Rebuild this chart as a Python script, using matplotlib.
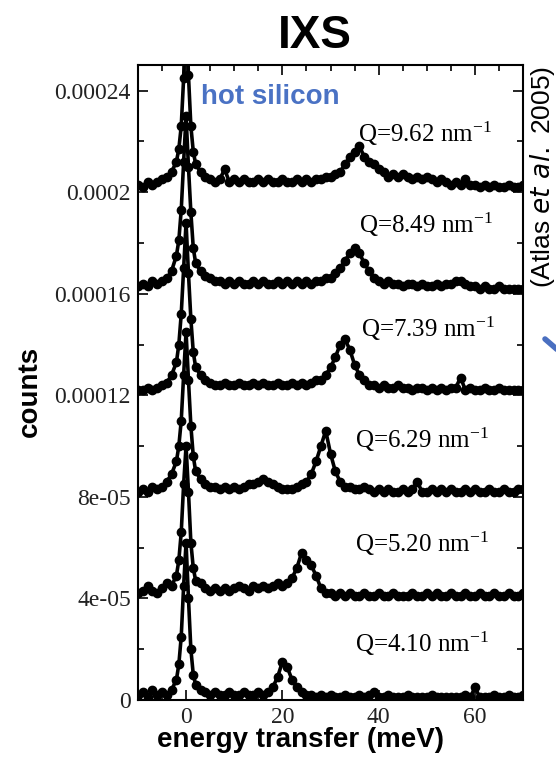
import numpy as np
import matplotlib.pyplot as plt
from matplotlib.lines import Line2D

plt.rcParams['mathtext.default'] = 'regular'

# energy grid (meV): coarse wings, 0.5 meV steps across the elastic line
energy = np.concatenate([np.arange(-10, -2), np.arange(-2, 2.5, 0.5), np.arange(3, 71)])

# spectra above their baselines, in units of 1e-6 counts
q410 = [2, 3, 1, 4, 2, 3, 2, 4,
        8, 14, 25, 45, 62, 40, 20, 10, 6,
        4, 3, 2, 3, 2, 2, 3, 2, 2, 3,
        2, 2, 3, 2, 3, 5, 9, 15, 13, 8,
        5, 3, 2, 2, 1, 2, 1, 2, 1, 1,
        2, 1, 1, 2, 1, 2, 3, 1, 1, 2,
        1, 1, 1, 2, 1, 1, 1, 1, 2, 1,
        1, 1, 1, 1, 1, 2, 1, 5, 1, 1,
        1, 2, 1, 1, 2, 1, 1, 2]
q520 = [2, 3, 5, 3, 2, 4, 6, 5,
        9, 15, 26, 45, 60, 42, 22, 12, 7,
        6, 4, 3, 4, 3, 4, 3, 4, 5, 4,
        3, 5, 4, 5, 4, 5, 6, 5, 6, 8,
        12, 18, 15, 13, 9, 4, 2, 2, 1, 2,
        1, 2, 1, 1, 2, 1, 1, 2, 1, 1,
        2, 1, 1, 1, 2, 1, 1, 2, 1, 2,
        1, 1, 2, 1, 1, 2, 1, 1, 2, 1,
        1, 2, 1, 1, 2, 1, 1, 2]
q629 = [2, 3, 2, 4, 3, 4, 6, 9,
        14, 20, 30, 48, 65, 46, 28, 16, 10,
        7, 5, 4, 4, 3, 4, 3, 4, 3, 4,
        5, 5, 6, 7, 6, 5, 4, 3, 3, 3,
        4, 5, 6, 9, 14, 20, 26, 17, 10, 6,
        4, 4, 3, 3, 4, 3, 2, 3, 2, 3,
        2, 2, 3, 2, 3, 6, 2, 2, 3, 2,
        3, 2, 3, 2, 2, 3, 2, 3, 2, 2,
        3, 2, 2, 3, 2, 2, 3, 3]
q739 = [2, 2, 3, 2, 3, 4, 5, 8,
        13, 20, 32, 50, 68, 48, 30, 17, 11,
        8, 6, 5, 4, 4, 5, 4, 4, 5, 4,
        4, 5, 4, 5, 4, 4, 5, 4, 4, 5,
        4, 5, 4, 5, 6, 6, 8, 11, 15, 20,
        22, 18, 12, 8, 6, 4, 4, 3, 4, 3,
        3, 4, 3, 3, 2, 3, 3, 2, 3, 2,
        3, 2, 3, 3, 7, 2, 3, 2, 2, 3,
        2, 2, 3, 2, 2, 2, 2, 2]
q849 = [3, 4, 3, 5, 4, 5, 6, 9,
        15, 21, 33, 52, 70, 50, 32, 18, 12,
        9, 7, 6, 5, 5, 4, 5, 4, 5, 4,
        4, 5, 4, 5, 4, 4, 5, 4, 5, 4,
        5, 4, 5, 4, 5, 5, 6, 6, 8, 10,
        13, 16, 18, 16, 12, 9, 6, 5, 4, 5,
        4, 4, 3, 4, 4, 3, 4, 3, 3, 4,
        3, 4, 4, 5, 5, 4, 3, 3, 2, 3,
        2, 2, 3, 2, 2, 2, 2, 2]
q962 = [3, 2, 4, 3, 4, 5, 6, 8,
        12, 17, 26, 45, 75, 46, 26, 16, 11,
        8, 6, 5, 4, 5, 9, 4, 5, 4, 5,
        4, 4, 5, 4, 5, 4, 4, 5, 4, 4,
        5, 4, 5, 4, 5, 5, 6, 6, 7, 8,
        11, 14, 16, 18, 14, 12, 11, 9, 8, 6,
        7, 6, 7, 6, 5, 6, 5, 6, 5, 4,
        5, 4, 3, 4, 3, 5, 3, 3, 2, 3,
        2, 3, 2, 2, 3, 2, 2, 3]

spectra = [q410, q520, q629, q739, q849, q962]
q_values = ['4.10', '5.20', '6.29', '7.39', '8.49', '9.62']
offsets = [0, 4e-5, 8e-5, 1.2e-4, 1.6e-4, 2e-4]
label_x = [35.0, 35.0, 35.0, 36.4, 36.0, 35.6]
label_y = [0.189e-4, 0.583e-4, 0.992e-4, 1.429e-4, 1.839e-4, 2.197e-4]

yticks = [0, 4e-5, 8e-5, 1.2e-4, 1.6e-4, 2e-4, 2.4e-4]
ytick_labels = ['0', '4e-05', '8e-05', '0.00012', '0.00016', '0.0002', '0.00024']
xticks = [0, 20, 40, 60]

fig = plt.figure(figsize=(5.56, 7.58), dpi=100)
ax = fig.add_axes([0.248, 0.0765, 0.693, 0.8375])

for vals, off in zip(spectra, offsets):
    assert len(vals) == len(energy)
    y = off + np.array(vals) * 1e-6
    ax.plot(energy, y, '-', color='black', lw=2.6)
    ax.plot(energy, y, 'o', ms=6, color='black', mfc='black')

for q, lx, ly in zip(q_values, label_x, label_y):
    ax.text(lx, ly, f'Q={q} nm$^{{-1}}$', family='Liberation Serif', fontsize=18,
            va='baseline', ha='left')

ax.text(3, 2.374e-4, 'hot silicon', color='#4a72c4', fontsize=20, weight='bold',
        family='Liberation Sans', va='center', ha='left')

ax.set_xlim(-10, 70)
ax.set_ylim(0, 2.5e-4)
ax.set_xticks(xticks)
ax.set_xticks(np.arange(-10, 71, 5), minor=True)
ax.set_yticks(yticks)
ax.set_yticklabels(ytick_labels)
ax.set_yticks(np.arange(2e-5, 2.5e-4, 4e-5), minor=True)
ax.tick_params(which='both', direction='in', top=True, right=True, width=1.2, pad=5)
ax.tick_params(which='major', length=7)
ax.tick_params(which='minor', length=4)
for lab in ax.get_xticklabels() + ax.get_yticklabels():
    lab.set_family('Liberation Serif')
    lab.set_fontsize(17)
    lab.set_color('#222222')
for s in ax.spines.values():
    s.set_linewidth(1.5)

fig.text(0.567, 0.953, 'IXS', ha='center', va='center', fontsize=33, weight='bold',
         family='Liberation Sans')
fig.text(0.054, 0.483, 'counts', rotation=90, ha='center', va='center', fontsize=20,
         weight='bold', family='Liberation Sans')
fig.text(0.541, 0.024, 'energy transfer (meV)', ha='center', va='center', fontsize=20,
         weight='bold', family='Liberation Sans')
fig.text(0.975, 0.766, '(Atlas $\\it{et\\ al.}$ 2005)', rotation=90, ha='center', va='center',
         fontsize=19, family='Liberation Sans')

fig.add_artist(Line2D([545 / 556, 560 / 556], [1 - 339 / 758, 1 - 352 / 758],
                      transform=fig.transFigure, color='#4a6fc0', lw=4,
                      solid_capstyle='round', clip_on=False))

fig.savefig('out.png', dpi=100)
